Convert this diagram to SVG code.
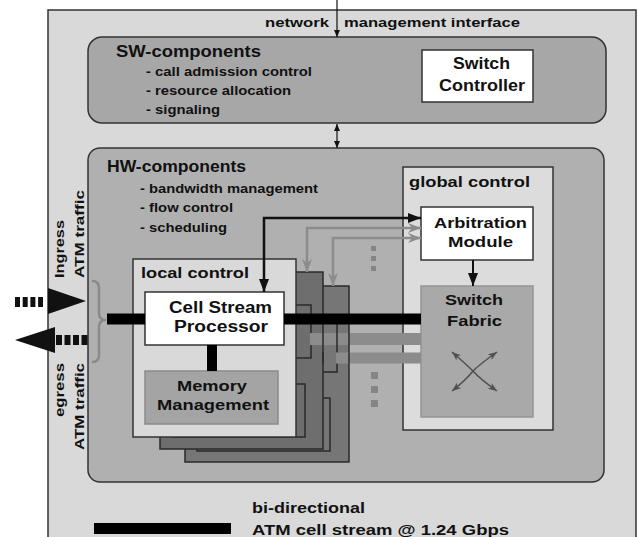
<svg xmlns="http://www.w3.org/2000/svg" width="639" height="537" viewBox="0 0 639 537">
<style>
text{font-family:"Liberation Sans",Arial,sans-serif;font-weight:bold;fill:#111}
.t12{font-size:12px}.t14{font-size:14px}.t15{font-size:15px}.t16{font-size:16px}.t17{font-size:17px}
.box{stroke:#333;stroke-width:1.5}
.card{fill:#6e6e6e;stroke:#2a2a2a;stroke-width:1.5}
.inner{fill:none;stroke:#2a2a2a;stroke-width:1.5}
.dot{fill:#858585}
.edge{stroke:#2a2a2a;stroke-width:1.5;fill:none}
</style>
<defs>
<marker id="ab" markerUnits="userSpaceOnUse" markerWidth="13" markerHeight="10" refX="13" refY="5" orient="auto-start-reverse"><path d="M0,0 L13,5 L0,10 z" fill="#111"/></marker>
<marker id="ag" markerUnits="userSpaceOnUse" markerWidth="13" markerHeight="10" refX="13" refY="5" orient="auto-start-reverse"><path d="M0,0 L13,5 L0,10 L4,5 z" fill="#8c8c8c"/></marker>
<marker id="as" markerUnits="userSpaceOnUse" markerWidth="7" markerHeight="6" refX="7" refY="3" orient="auto-start-reverse"><path d="M0,0 L7,3 L0,6 z" fill="#111"/></marker>
<marker id="ax" markerUnits="userSpaceOnUse" markerWidth="9" markerHeight="7" refX="9" refY="3.5" orient="auto-start-reverse"><path d="M0,0 L9,3.5 L0,7 L2.5,3.5 z" fill="#505050"/></marker>
</defs>
<rect width="639" height="537" fill="#fff"/>
<g id="outer"><rect x="48" y="10" width="588" height="540" fill="#d9d9d9" class="box"/></g>
<g id="sw">
<rect x="88" y="37" width="518" height="86" rx="14" fill="#a7a7a7" class="box"/>
<text class="t16" x="116" y="57" textLength="145" lengthAdjust="spacingAndGlyphs">SW-components</text>
<text class="t12" x="146" y="76" textLength="166" lengthAdjust="spacingAndGlyphs">- call admission control</text>
<text class="t12" x="146" y="95" textLength="145" lengthAdjust="spacingAndGlyphs">- resource allocation</text>
<text class="t12" x="146" y="114" textLength="74" lengthAdjust="spacingAndGlyphs">- signaling</text>
</g>
<g id="switch-controller">
<rect x="422" y="50" width="111" height="52" fill="#fff" class="box"/>
<text class="t17" x="453" y="69" textLength="57" lengthAdjust="spacingAndGlyphs">Switch</text>
<text class="t17" x="439" y="91" textLength="86" lengthAdjust="spacingAndGlyphs">Controller</text>
</g>
<g id="hw">
<rect x="88" y="148" width="516" height="334" rx="12" fill="#b0b0b0" class="box"/>
<text class="t16" x="107" y="172" textLength="139" lengthAdjust="spacingAndGlyphs">HW-components</text>
<text class="t12" x="140" y="193" textLength="178" lengthAdjust="spacingAndGlyphs">- bandwidth management</text>
<text class="t12" x="140" y="212" textLength="93" lengthAdjust="spacingAndGlyphs">- flow control</text>
<text class="t12" x="140" y="232" textLength="87" lengthAdjust="spacingAndGlyphs">- scheduling</text>
</g>
<g id="global-control">
<rect x="403" y="167" width="150" height="263" fill="#dcdcdc" class="box"/>
<text class="t15" x="409" y="187" textLength="121" lengthAdjust="spacingAndGlyphs">global control</text>
</g>
<g id="arbitration-module">
<rect x="421" y="207" width="112" height="53" fill="#fff" class="box"/>
<text class="t15" x="434" y="228" textLength="93" lengthAdjust="spacingAndGlyphs">Arbitration</text>
<text class="t15" x="448" y="247" textLength="65" lengthAdjust="spacingAndGlyphs">Module</text>
</g>
<g id="switch-fabric">
<rect x="421" y="286" width="112" height="131" fill="#a9a9a9" stroke="#959595" stroke-width="1.5"/>
<text class="t15" x="445" y="305" textLength="58" lengthAdjust="spacingAndGlyphs">Switch</text>
<text class="t15" x="447" y="326" textLength="55" lengthAdjust="spacingAndGlyphs">Fabric</text>
<path d="M452,352 Q468,366 473,371 Q480,379 497,391" fill="none" stroke="#505050" stroke-width="1.5" marker-start="url(#ax)" marker-end="url(#ax)"/>
<path d="M497,352 Q480,364 473,371 Q466,380 452,391" fill="none" stroke="#505050" stroke-width="1.5" marker-start="url(#ax)" marker-end="url(#ax)"/>
</g>
<g id="card-b">
<rect x="185" y="286" width="164" height="176" class="card" style="fill:#767676"/>
<rect x="197" y="319" width="140" height="53" class="inner"/>
<rect x="197" y="398" width="133" height="53" class="inner"/>
</g>
<g id="card-a">
<rect x="160" y="272" width="163" height="177" class="card"/>
<rect x="172" y="305" width="139" height="53" class="inner"/>
<rect x="172" y="384" width="133" height="53" class="inner"/>
</g>
<g id="local-control">
<rect x="133" y="259" width="163" height="178" fill="#d9d9d9" class="box"/>
<text class="t15" x="141" y="278" textLength="108" lengthAdjust="spacingAndGlyphs">local control</text>
</g>
<g id="cell-stream-processor">
<rect x="145" y="292" width="139" height="53" fill="#fff" class="box"/>
<text class="t16" x="169" y="313" textLength="103" lengthAdjust="spacingAndGlyphs">Cell Stream</text>
<text class="t16" x="174" y="332" textLength="94" lengthAdjust="spacingAndGlyphs">Processor</text>
</g>
<g id="memory-management">
<rect x="145" y="371" width="133" height="53" fill="#a4a4a4" stroke="#8a8a8a" stroke-width="1.5"/>
<text class="t15" x="177" y="391" textLength="70" lengthAdjust="spacingAndGlyphs">Memory</text>
<text class="t15" x="157" y="410" textLength="112" lengthAdjust="spacingAndGlyphs">Management</text>
</g>
<g id="traffic">
<path d="M15,302 H43" stroke="#111" stroke-width="10" stroke-dasharray="5 2.7"/>
<path d="M48,288 L86,301 L48,314 z" fill="#111"/>
<path d="M15,340 L55,327 L55,353 z" fill="#111"/>
<path d="M56,340 H88" stroke="#111" stroke-width="10" stroke-dasharray="6 2.5"/>
<path d="M92,281 Q99,281 99,288 L99,313 Q99,320 106,320 Q99,320 99,327 L99,355 Q99,362 92,362" fill="none" stroke="#8a8a8a" stroke-width="2.5"/>
<text class="t12" transform="translate(64,278) rotate(-90)" textLength="58" lengthAdjust="spacingAndGlyphs">Ingress</text>
<text class="t12" transform="translate(84,278) rotate(-90)" textLength="88" lengthAdjust="spacingAndGlyphs">ATM traffic</text>
<text class="t12" transform="translate(64,363) rotate(-90)" text-anchor="end" textLength="54" lengthAdjust="spacingAndGlyphs">egress</text>
<text class="t12" transform="translate(84,363) rotate(-90)" text-anchor="end" textLength="87" lengthAdjust="spacingAndGlyphs">ATM traffic</text>
</g>
<g id="connectors">
<path d="M337,0 V37" stroke="#111" stroke-width="1.2" fill="none" marker-end="url(#as)"/>
<path d="M337,124 V148" stroke="#111" stroke-width="1.2" fill="none" marker-start="url(#as)" marker-end="url(#as)"/>
<path d="M107,319 H145" stroke="#000" stroke-width="11"/>
<path d="M284,319 H421" stroke="#000" stroke-width="11"/>
<path d="M310,339 H421" stroke="#8c8c8c" stroke-width="12"/>
<path d="M336,358 H421" stroke="#8c8c8c" stroke-width="11"/>
<path class="edge" d="M323,333 V345 M337,333 V345 M349,333 V345 M323,352.5 V363.5 M349,352.5 V363.5"/>
<path d="M212,345 V371" stroke="#000" stroke-width="10"/>
<path d="M421,218 H264 V292" fill="none" stroke="#111" stroke-width="2.5" marker-start="url(#ab)" marker-end="url(#ab)"/>
<path d="M421,228 H307 V272" fill="none" stroke="#8c8c8c" stroke-width="2.5" marker-start="url(#ag)" marker-end="url(#ag)"/>
<path d="M421,238 H333 V286" fill="none" stroke="#8c8c8c" stroke-width="2.5" marker-start="url(#ag)" marker-end="url(#ag)"/>
<path d="M473,260 V286" fill="none" stroke="#111" stroke-width="2" marker-end="url(#ab)"/>
<rect class="dot" x="371" y="246" width="5" height="5"/>
<rect class="dot" x="371" y="256" width="5" height="5"/>
<rect class="dot" x="371" y="266" width="5" height="5"/>
<rect class="dot" x="371" y="372" width="7" height="7"/>
<rect class="dot" x="371" y="386" width="7" height="7"/>
<rect class="dot" x="371" y="400" width="7" height="7"/>
</g>
<g id="labels">
<text class="t12" x="265" y="27" textLength="64" lengthAdjust="spacingAndGlyphs">network</text>
<text class="t12" x="344" y="27" textLength="176" lengthAdjust="spacingAndGlyphs">management interface</text>
</g>
<g id="legend">
<rect x="94" y="523" width="137" height="11" fill="#000"/>
<text class="t14" x="252" y="513" textLength="113" lengthAdjust="spacingAndGlyphs">bi-directional</text>
<text class="t14" x="252" y="535" textLength="257" lengthAdjust="spacingAndGlyphs">ATM cell stream @ 1.24 Gbps</text>
</g>
</svg>
